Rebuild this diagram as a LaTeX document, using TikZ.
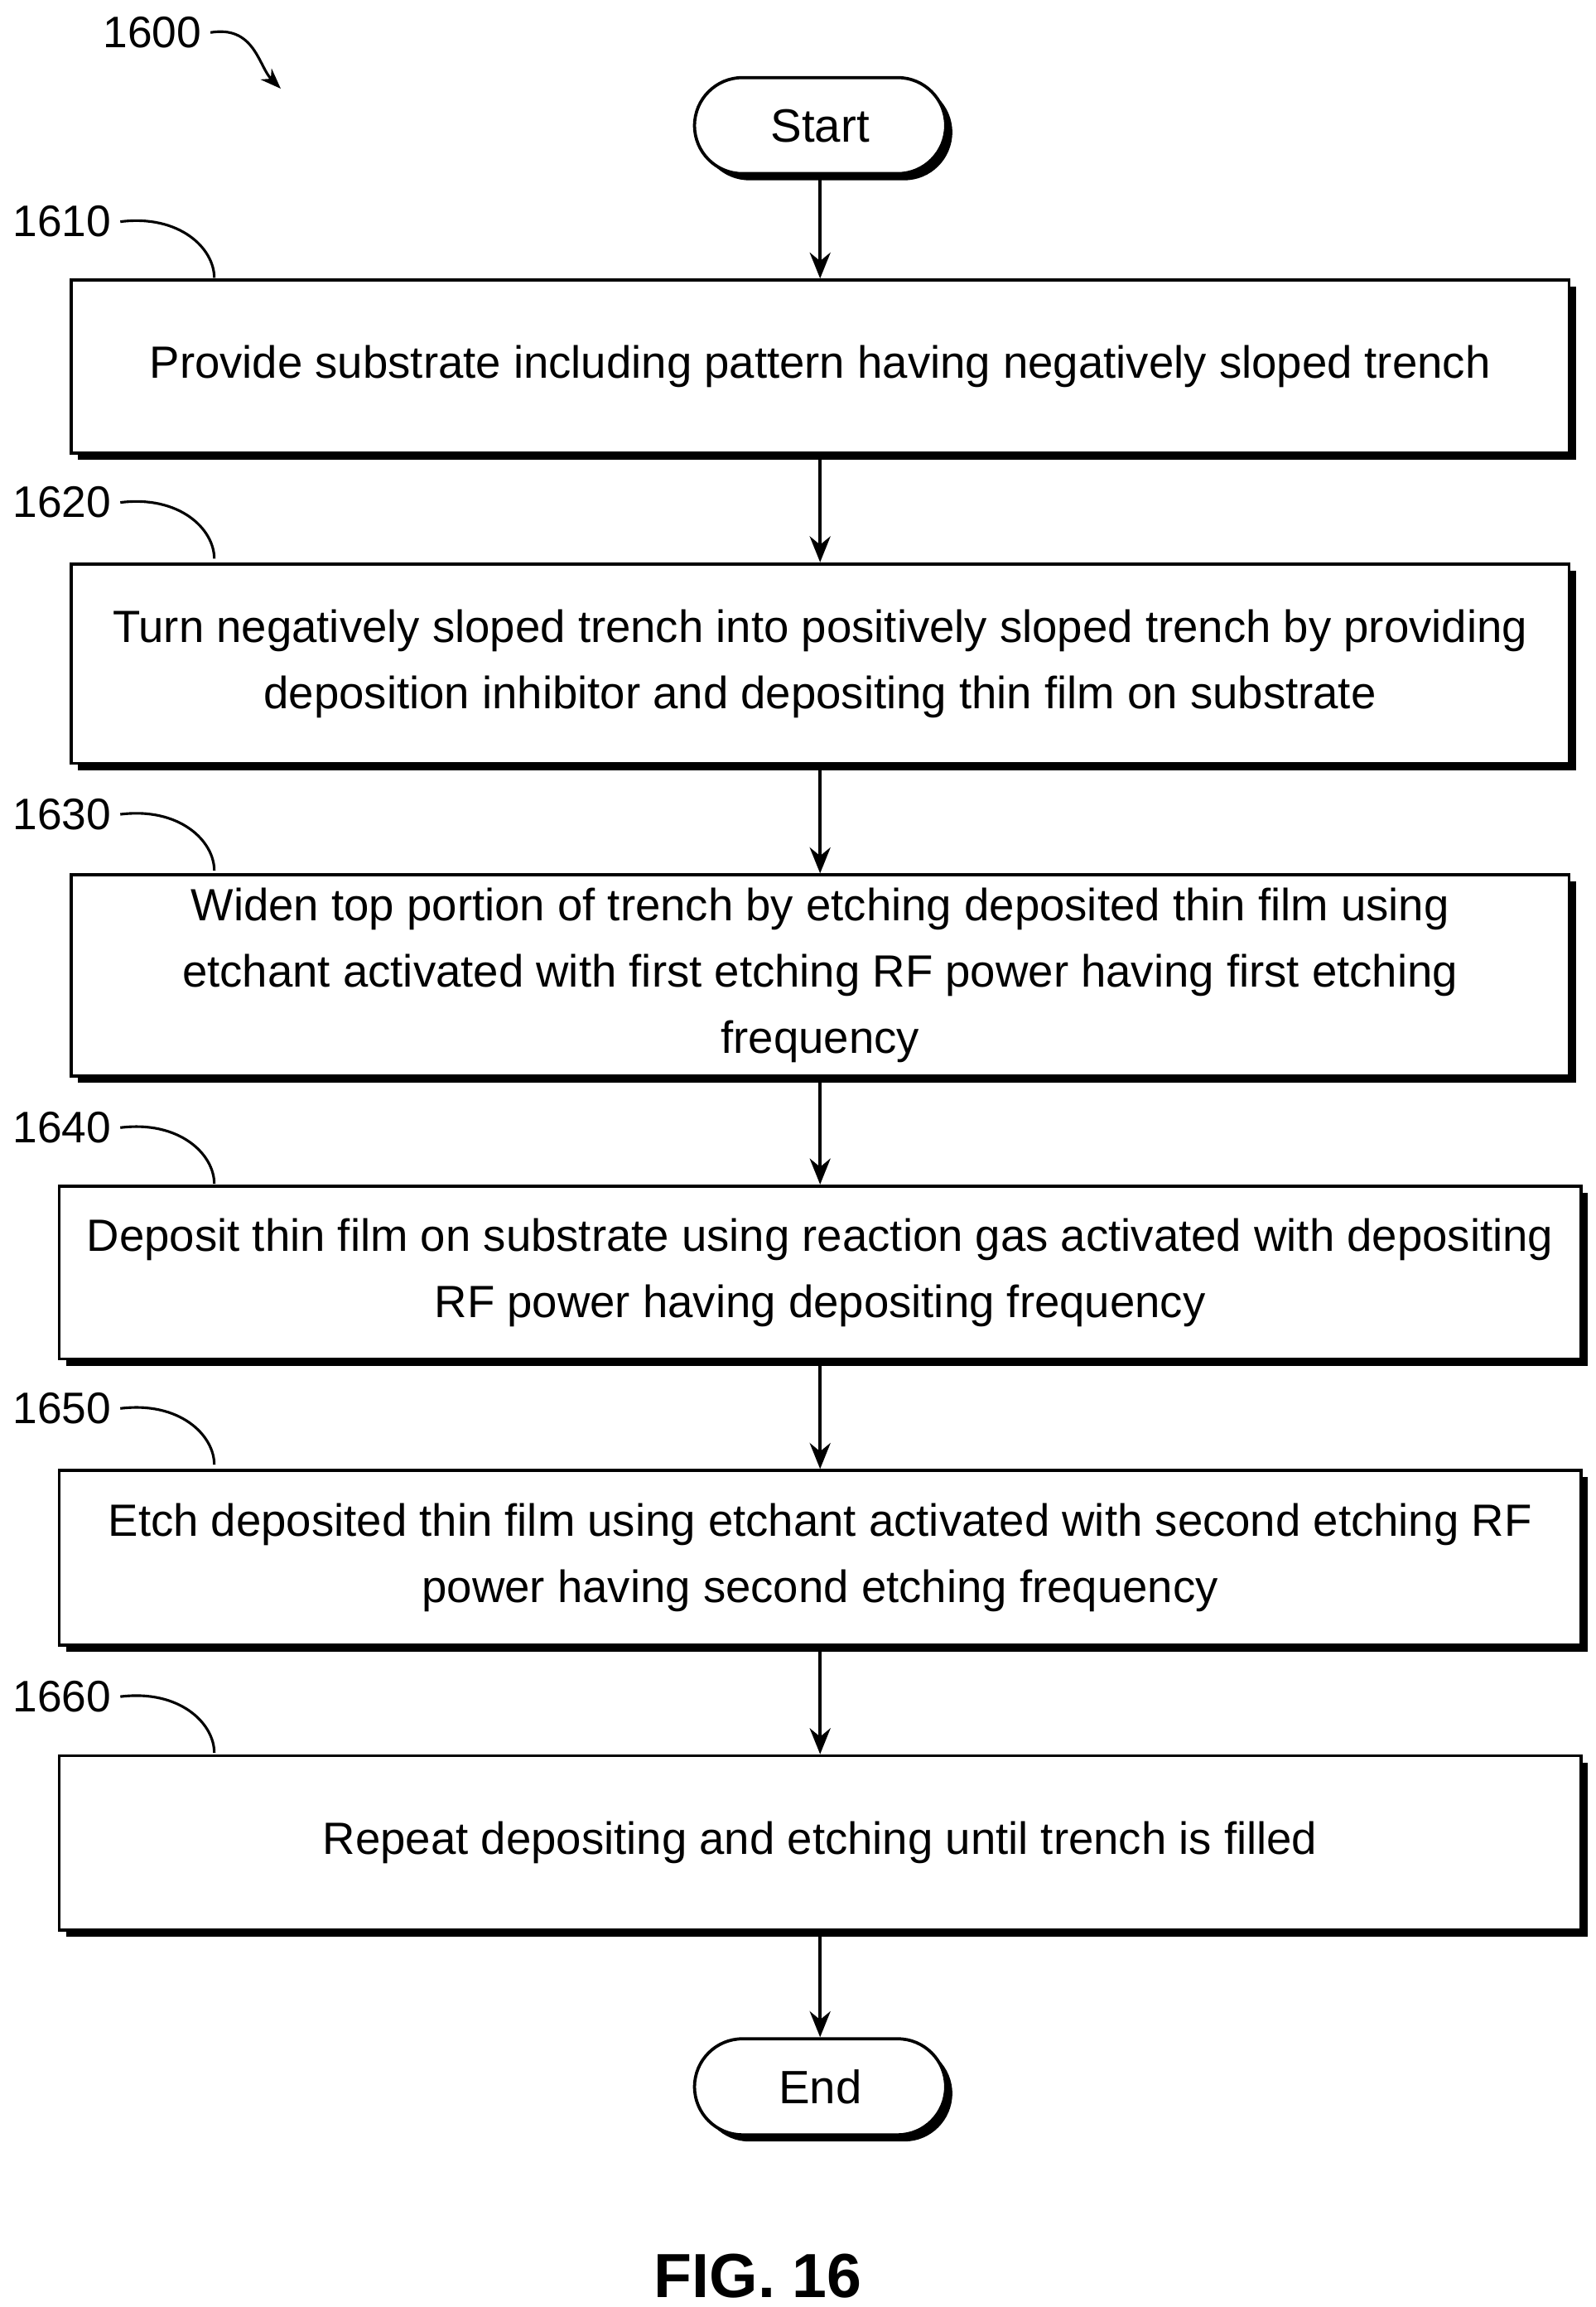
\documentclass[tikz,border=0pt]{standalone}
\usepackage{fontspec}
\setmainfont{Liberation Sans}
\usetikzlibrary{positioning,shadows,arrows.meta}
\begin{document}
\begin{tikzpicture}[x=0.02cm,y=-0.02cm,
  stepbox/.style={draw,line width=1.2pt,fill=white,align=center,inner sep=0pt,
    font=\fontsize{17.4}{25.5}\selectfont,
    drop shadow={shadow xshift=0.09cm,shadow yshift=-0.09cm,fill=black,opacity=1}},
  term/.style={stepbox,rounded corners=0.65cm,minimum width=3.4cm,minimum height=1.3cm,
    font=\fontsize{18}{22}\selectfont},
  flow/.style={-{Stealth[length=10pt,width=8pt]},line width=1.2pt},
  tag/.style={font=\fontsize{17}{20}\selectfont,anchor=center}]

\useasboundingbox (0,0) rectangle (1080,1561);

% Terminals
\node [term] (start) at (555,85) {Start};
\node [term] (end) at (555,1412) {End};

% Steps
\node [stepbox,minimum width=20.28cm,minimum height=2.34cm] (s1610) at (555,248)
  {Provide substrate including pattern having negatively sloped trench};
\node [stepbox,minimum width=20.28cm,minimum height=2.7cm] (s1620) at (555,449)
  {Turn negatively sloped trench into positively sloped trench by providing\\deposition inhibitor and depositing thin film on substrate};
\node [stepbox,minimum width=20.28cm,minimum height=2.72cm] (s1630) at (555,660)
  {Widen top portion of trench by etching deposited thin film using\\etchant activated with first etching RF power having first etching\\frequency};
\node [stepbox,minimum width=20.6cm,minimum height=2.34cm] (s1640) at (555,861)
  {Deposit thin film on substrate using reaction gas activated with depositing\\RF power having depositing frequency};
\node [stepbox,minimum width=20.6cm,minimum height=2.36cm] (s1650) at (555,1054)
  {Etch deposited thin film using etchant activated with second etching RF\\power having second etching frequency};
\node [stepbox,minimum width=20.6cm,minimum height=2.36cm] (s1660) at (555,1247)
  {Repeat depositing and etching until trench is filled};

% Arrows
\draw [flow] (start) -- (s1610);
\draw [flow] (s1610) -- (s1620);
\draw [flow] (s1620) -- (s1630);
\draw [flow] (s1630) -- (s1640);
\draw [flow] (s1640) -- (s1650);
\draw [flow] (s1650) -- (s1660);
\draw [flow] (s1660) -- (end);

% Reference labels
\foreach \lbl/\y in {1610/150,1620/340,1630/551,1640/763,1650/953,1660/1148} {
  \node [tag] (l\lbl) at (42,\y) {\lbl};
  \coordinate (c\lbl) at (145,\y+38);
  \draw [line width=1pt] (l\lbl.east) .. controls ++(40,-5) and ++(0,-20) .. (c\lbl);
}
\node [tag] (l1600) at (103,22) {1600};
\coordinate (c1600) at (190,60);
\draw [-{Stealth[length=8pt]},line width=1pt] (l1600.east) .. controls ++(30,-5) and ++(-15,-15) .. (c1600);

\node [inner sep=0pt,font=\bfseries\fontsize{24}{26}\selectfont] (fig) at (513,1540) {FIG. 16};
\end{tikzpicture}
\end{document}
